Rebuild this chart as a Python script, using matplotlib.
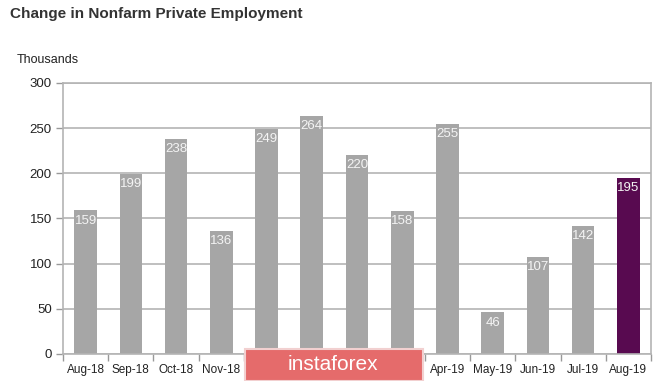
import matplotlib.pyplot as plt
import matplotlib.patches as mpatches
import numpy as np

months = ["Aug-18", "Sep-18", "Oct-18", "Nov-18", "Dec-18", "Jan-19", "Feb-19",
          "Mar-19", "Apr-19", "May-19", "Jun-19", "Jul-19", "Aug-19"]
values = [159, 199, 238, 136, 249, 264, 220, 158, 255, 46, 107, 142, 195]

plt.rcParams['font.family'] = ['Liberation Sans', 'DejaVu Sans']

fig = plt.figure(figsize=(6.65, 3.81), dpi=100)
ax = fig.add_axes([0.0947, 0.0709, 0.8843, 0.7113])

x = np.arange(len(months))
colors = ['#a6a6a6'] * (len(months) - 1) + ['#580a50']
ax.bar(x, values, width=0.5, color=colors, zorder=2)

for xi, v in zip(x, values):
    ax.annotate(str(v), (xi, v), xytext=(0, -3), textcoords='offset points',
                ha='center', va='top', color='#f4f4f4', fontsize=9.5, zorder=3)

ax.set_xlim(-0.5, len(months) - 0.5)
ax.set_ylim(0, 300)
ax.set_yticks(range(0, 301, 50))
ax.yaxis.grid(True, color='#b4b4b4', linewidth=1.2, zorder=0)

ax.set_xticks(x)
ax.set_xticklabels(months, fontsize=8.5, color='#222222')
ax.set_xticks(np.arange(-0.5, len(months), 1), minor=True)
ax.tick_params(axis='x', which='major', length=0, pad=7)
ax.tick_params(axis='x', which='minor', length=5, color='#999999', width=1)
ax.tick_params(axis='y', length=5, color='#999999', width=1, labelsize=9.5,
               labelcolor='#222222', pad=3)

for s in ['left', 'bottom', 'right', 'top']:
    ax.spines[s].set_color('#b4b4b4')
    ax.spines[s].set_linewidth(1.2)

fig.text(10 / 665, 1 - 14 / 381, "Change in Nonfarm Private Employment",
         fontsize=11, fontweight='bold', color='#333333', va='center', ha='left')
fig.text(17 / 665, 1 - 60 / 381, "Thousands", fontsize=9, color='#222222',
         va='center', ha='left')

# watermark overlay
wm = mpatches.Rectangle((245 / 665, 0), 178 / 665, 32 / 381, transform=fig.transFigure,
                        facecolor='#e56b6b', edgecolor='#f2d0d0', linewidth=1.5, zorder=10)
fig.patches.append(wm)
fig.text(333 / 665, 1 - 364 / 381, "instaforex", fontsize=15, color='white',
         ha='center', va='center', zorder=11)

fig.savefig("out.png", dpi=100)
